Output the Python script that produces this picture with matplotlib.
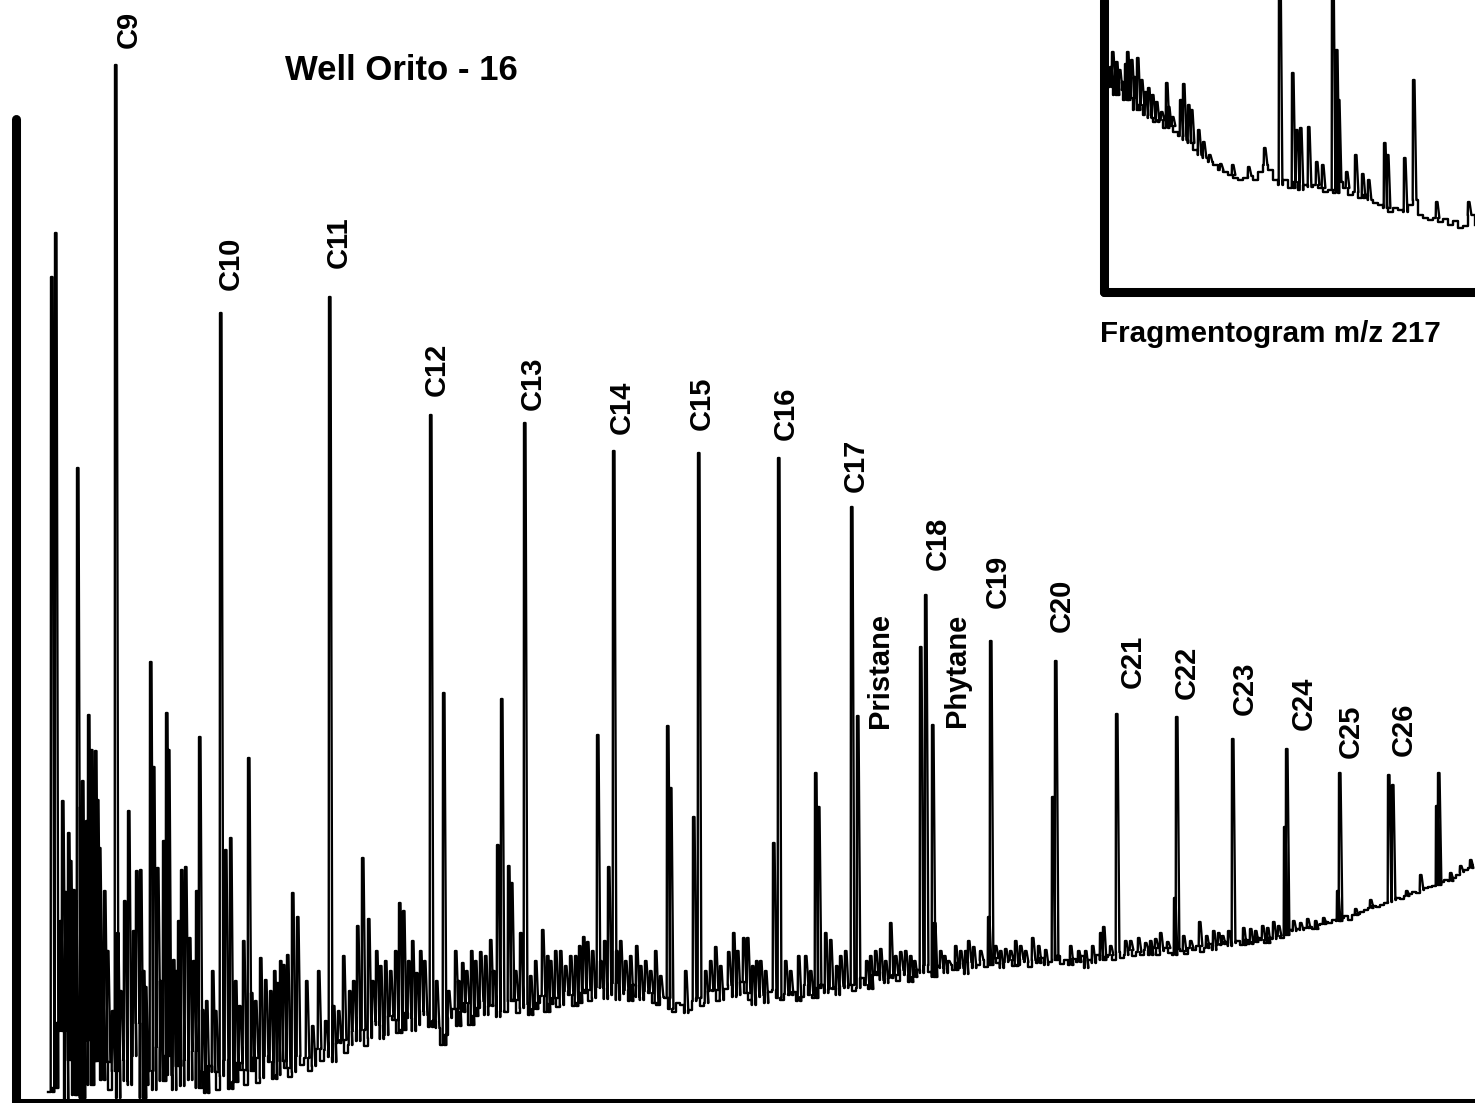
import numpy as np
import matplotlib.pyplot as plt

plt.rcParams['font.family'] = ['Liberation Sans', 'DejaVu Sans']

# ---- whole-oil chromatogram (scan number vs. abundance) ----
# labelled n-alkanes and isoprenoids
peak_names = ['C9', 'C10', 'C11', 'C12', 'C13', 'C14', 'C15', 'C16', 'C17', 'Pristane',
              'C18', 'Phytane', 'C19', 'C20', 'C21', 'C22', 'C23', 'C24', 'C25', 'C26']
peak_scan = [115, 220, 329, 430, 524, 613, 698, 778, 851, 857,
             925, 932, 990, 1055, 1116, 1176, 1232, 1286, 1339, 1388]
peak_height = [1036, 788, 804, 686, 678, 650, 648, 643, 594, 385,
               506, 376, 460, 440, 387, 384, 362, 352, 328, 326]

# baseline / unresolved hump, one reading every 4 scans from scan 48
floor_start, floor_step = 48, 4
floor_level = [
    9, 13, 78, 70, 1, 41, 6, 51, 3, 61, 16, 40, 81, 21, 39, 11, 30, 3, 41, 20, 16, 45, 78, 3, 16,
    30, 11, 54, 20, 45, 26, 11, 35, 15, 41, 21, 50, 13, 29, 8, 35, 29, 11, 25, 41, 12, 19, 38, 31, 16,
    30, 43, 18, 23, 45, 39, 22, 26, 40, 33, 24, 29, 45, 36, 43, 30, 35, 52, 40, 51, 44, 39, 58, 61, 48,
    56, 70, 60, 71, 55, 63, 80, 76, 62, 66, 85, 81, 68, 71, 88, 83, 70, 76, 90, 86, 74, 80, 73, 56, 66,
    83, 92, 75, 89, 98, 76, 85, 93, 100, 86, 95, 96, 84, 90, 89, 100, 101, 88, 93, 97, 86, 92, 98, 105, 89,
    97, 103, 94, 96, 110, 106, 95, 98, 108, 111, 100, 103, 114, 113, 102, 106, 118, 101, 107, 111, 100, 116, 104, 101, 110,
    108, 98, 96, 104, 103, 92, 89, 98, 96, 88, 91, 100, 103, 95, 98, 110, 111, 100, 101, 112, 116, 104, 106, 119, 108,
    101, 96, 104, 106, 98, 109, 111, 103, 101, 107, 106, 109, 100, 104, 116, 106, 103, 113, 116, 108, 112, 113, 106, 115, 113,
    116, 110, 113, 123, 116, 112, 126, 129, 121, 118, 123, 126, 120, 131, 126, 119, 124, 131, 128, 136, 129, 124, 135, 133, 128,
    136, 131, 138, 133, 127, 139, 133, 136, 141, 134, 136, 143, 138, 133, 139, 141, 135, 136, 142, 139, 134, 141, 138, 143, 136,
    139, 141, 145, 137, 141, 136, 142, 139, 145, 133, 141, 138, 146, 141, 144, 146, 141, 149, 143, 146, 151, 145, 149, 146, 151,
    146, 153, 146, 150, 153, 148, 146, 152, 150, 147, 153, 151, 155, 149, 153, 157, 151, 156, 157, 159, 155, 158, 160, 156, 161,
    157, 159, 163, 161, 158, 163, 162, 165, 163, 166, 171, 170, 172, 171, 173, 174, 172, 176, 177, 179, 178, 181, 180, 183, 185,
    181, 186, 187, 189, 191, 193, 195, 194, 196, 198, 199, 201, 203, 202, 205, 207, 209, 208, 211, 213, 214, 215, 216, 219, 221,
    220, 223, 226, 229, 231, 233, 236]

# unassigned peaks
minor_scan = [51, 55, 60, 62, 65, 68, 70, 73, 75, 77, 80, 82, 84, 86, 88, 91, 93, 95, 97, 99,
              102, 104, 107, 112, 117, 120, 124, 128, 133, 136, 140, 143, 145, 150, 153, 157,
              160, 163, 166, 168, 173, 176, 178, 181, 185, 189, 193, 196, 199, 202, 206, 212,
              215, 225, 230, 235, 239, 243, 248, 251, 255, 260, 265, 270, 274, 277, 280, 283,
              287, 292, 297,
              306, 312, 318, 325, 333, 338, 343, 349, 353, 357, 362, 368, 372, 376, 380, 385,
              390, 395, 399, 403, 408, 412, 416, 420, 424, 436, 443, 448, 455, 458, 462, 466,
              471, 475, 480, 485, 490, 493, 497, 501, 508, 511, 515, 520, 530, 535, 542, 547,
              550, 555, 560, 565, 570, 575, 579, 583, 587, 592, 597, 600, 604, 608, 616, 620,
              625, 630, 636, 640, 645, 650, 655, 660, 667, 670, 685, 693, 705, 710, 715, 720,
              728, 733, 737, 743, 747, 752, 756, 760, 765, 773, 785, 790, 798, 805, 810, 815,
              818, 825, 830, 836, 840, 845, 866, 870, 875, 880, 885, 890, 895, 900, 905, 910,
              914, 920, 934, 940, 944, 948, 955, 960, 965, 968, 973, 980, 988, 995, 1000, 1005,
              1010, 1015, 1020, 1025, 1032, 1038, 1045, 1052,
              1070, 1078, 1085, 1092, 1100, 1103, 1110, 1125, 1130, 1138, 1145, 1150, 1155,
              1160, 1167, 1174, 1183, 1190, 1199, 1206, 1213, 1218, 1222, 1228, 1243, 1250,
              1255, 1262, 1267, 1273, 1278, 1284, 1293, 1300, 1307, 1315, 1323, 1337, 1355,
              1370, 1392, 1406, 1420, 1436, 1438, 1450, 1460, 1470]
minor_height = [824, 868, 180, 300, 209, 268, 240, 211, 200, 633, 294, 320, 251, 280, 386, 351, 230, 350, 301, 253,
                108, 210, 150, 90, 168, 110, 200, 290, 170, 230, 231, 130, 114, 439, 334, 233,
                120, 260, 388, 351, 141, 130, 180, 231, 234, 163, 140, 210, 364, 91, 100, 130,
                90, 251, 263, 120, 95, 160, 343, 108, 100, 143, 121, 110, 130, 118, 140, 136,
                146, 208, 184,
                120, 75, 130, 80, 95, 90, 145, 110, 120, 175, 243, 182, 120, 150, 135, 140,
                130, 150, 198, 190, 140, 160, 128, 150, 140, 120, 408, 110, 150, 120, 138, 130,
                150, 140, 149, 145, 161, 130, 256, 402, 235, 218, 130, 168, 125, 140, 171, 145,
                140, 150, 150, 135, 145, 145, 155, 164, 159, 150, 366, 140, 160, 234, 150, 160,
                140, 145, 155, 135, 140, 130, 150, 125, 375, 313, 130, 284, 130, 140, 154, 135,
                149, 168, 150, 163, 163, 135, 140, 140, 130, 258, 140, 130, 145, 145, 130, 328,
                294, 168, 161, 135, 145, 150, 140, 145, 150, 152, 140, 178, 145, 149, 150, 145,
                140, 454, 178, 150, 145, 140, 155, 150, 150, 160, 154, 150, 184, 155, 150, 152,
                150, 160, 155, 150, 163, 155, 151, 304,
                155, 150, 150, 155, 168, 174, 155, 160, 160, 163, 158, 160, 162,
                168, 159, 203, 165, 160, 179, 165, 170, 168, 165, 170, 173, 172,
                170, 175, 173, 179, 175, 274, 180, 178, 182, 180, 183, 210, 192,
                201, 316, 210, 226, 295, 328, 228, 235, 241]

# ---- m/z 217 fragmentogram (steranes) ----
frag_floor_scan = [1108, 1113, 1118, 1123, 1128, 1133, 1138, 1143, 1148, 1153, 1158, 1163,
                   1168, 1173, 1178, 1183, 1188, 1193, 1198, 1203, 1208, 1213, 1218, 1223,
                   1228, 1233, 1238, 1243, 1248, 1253, 1258, 1263, 1268, 1273, 1278, 1283,
                   1288, 1293, 1298, 1303, 1308, 1313, 1318, 1323, 1328, 1333, 1338, 1343,
                   1348, 1353, 1358, 1363, 1368, 1373, 1378, 1383, 1388, 1393, 1398, 1403,
                   1408, 1413, 1418, 1423, 1428, 1433, 1438, 1443, 1448, 1453, 1458, 1463,
                   1468, 1475]
frag_floor_level = [205, 197, 202, 192, 194, 182, 187, 177, 174, 170, 172, 164,
                    166, 160, 156, 152, 149, 142, 137, 134, 130, 127, 122, 120,
                    117, 114, 112, 114, 116, 112, 120, 127, 122, 112, 107, 112,
                    104, 110, 102, 107, 105, 107, 104, 100, 102, 99, 110, 104,
                    97, 100, 94, 97, 92, 89, 87, 84, 80, 84, 82, 80,
                    87, 92, 77, 74, 72, 74, 70, 73, 67, 71, 64, 66,
                    77, 67]
frag_peak_scan = [1110, 1112, 1114, 1116, 1119, 1122, 1125, 1127, 1131, 1134, 1137, 1141, 1145,
                  1148, 1152, 1156, 1161, 1166, 1168, 1172, 1180, 1183, 1188, 1191, 1198, 1203,
                  1209, 1220, 1232, 1248, 1264, 1279, 1292, 1296, 1300, 1308, 1316, 1322, 1332,
                  1336, 1338, 1346, 1355, 1362, 1368, 1384, 1387, 1404, 1413, 1436, 1468]
frag_peak_height = [225, 240, 215, 230, 222, 210, 228, 240, 232, 215, 234, 212, 200,
                    204, 197, 190, 180, 209, 185, 175, 192, 208, 187, 182, 162, 150,
                    137, 128, 127, 125, 144, 340, 219, 162, 164, 165, 130, 127, 340,
                    242, 192, 120, 137, 118, 112, 149, 137, 134, 212, 90, 90]


def build_trace(floor_x, floor_y, spike_x, spike_y):
    """Step the baseline and drop each narrow peak onto the level it sits on."""
    order = np.argsort(spike_x)
    sx = np.asarray(spike_x, float)[order]
    sy = np.asarray(spike_y, float)[order]
    xs, ys = [], []
    j = 0
    for i in range(len(floor_x)):
        lvl = floor_y[i]
        x_end = floor_x[i + 1] if i + 1 < len(floor_x) else np.inf
        xs.append(floor_x[i])
        ys.append(lvl)
        while j < len(sx) and sx[j] < x_end:
            xs += [sx[j] - 0.3, sx[j], sx[j] + 1.5, sx[j] + 3.4]
            ys += [lvl, sy[j], sy[j], lvl]
            j += 1
        if np.isfinite(x_end):
            xs.append(x_end)
            ys.append(lvl)
    return xs, ys


fig = plt.figure(figsize=(14.75, 11.03), dpi=100)
W, H = 1475.0, 1103.0

# main chromatogram
ax = fig.add_axes([15.5 / W, 0.0, 1 - 15.5 / W, 1.0])
floor_scan = floor_start + floor_step * np.arange(len(floor_level))
tx, ty = build_trace(floor_scan, floor_level,
                     list(peak_scan) + list(minor_scan),
                     list(peak_height) + list(minor_height))
ax.plot(tx, ty, color='black', lw=1.7)
ax.set_xlim(15.5, 1475)
ax.set_ylim(-2, 1101)
ax.set_xticks([])
ax.set_yticks([])
for side in ['top', 'right']:
    ax.spines[side].set_visible(False)
for side in ['left', 'bottom']:
    ax.spines[side].set_linewidth(6.5)
    ax.spines[side].set_capstyle('round')
ax.spines['left'].set_bounds(-2, 982)

label_xy = [(129, 1053), (231, 811), (339, 833), (437, 705), (533, 691), (622, 667),
            (702, 671), (786, 661), (856, 609), (880, 373), (938, 531), (957, 374),
            (998, 493), (1062, 469), (1133, 413), (1187, 402), (1245, 386), (1304, 371),
            (1351, 343), (1404, 345)]
for name, (lx, ly) in zip(peak_names, label_xy):
    ax.text(lx, ly, name, rotation=90, ha='center', va='bottom',
            fontsize=21, fontweight='bold')

fig.text(285 / W, 1 - 80 / H, 'Well Orito - 16', fontsize=25, fontweight='bold',
         ha='left', va='baseline')

# inset: m/z 217 fragmentogram
ins = fig.add_axes([1103.5 / W, 1 - 292 / H, (W - 1103.5) / W, 292 / H])
fx, fy = build_trace(frag_floor_scan, frag_floor_level, frag_peak_scan, frag_peak_height)
ins.plot(fx, fy, color='black', lw=1.7)
ins.set_xlim(1103.5, 1475)
ins.set_ylim(0, 292)
ins.set_xticks([])
ins.set_yticks([])
ins.patch.set_alpha(0)
for side in ['top', 'right']:
    ins.spines[side].set_visible(False)
for side in ['left', 'bottom']:
    ins.spines[side].set_linewidth(6.5)
    ins.spines[side].set_capstyle('round')

fig.text(1100 / W, 1 - 342 / H, 'Fragmentogram m/z 217', fontsize=21.3,
         fontweight='bold', ha='left', va='baseline')

fig.savefig('out.png', dpi=100)
